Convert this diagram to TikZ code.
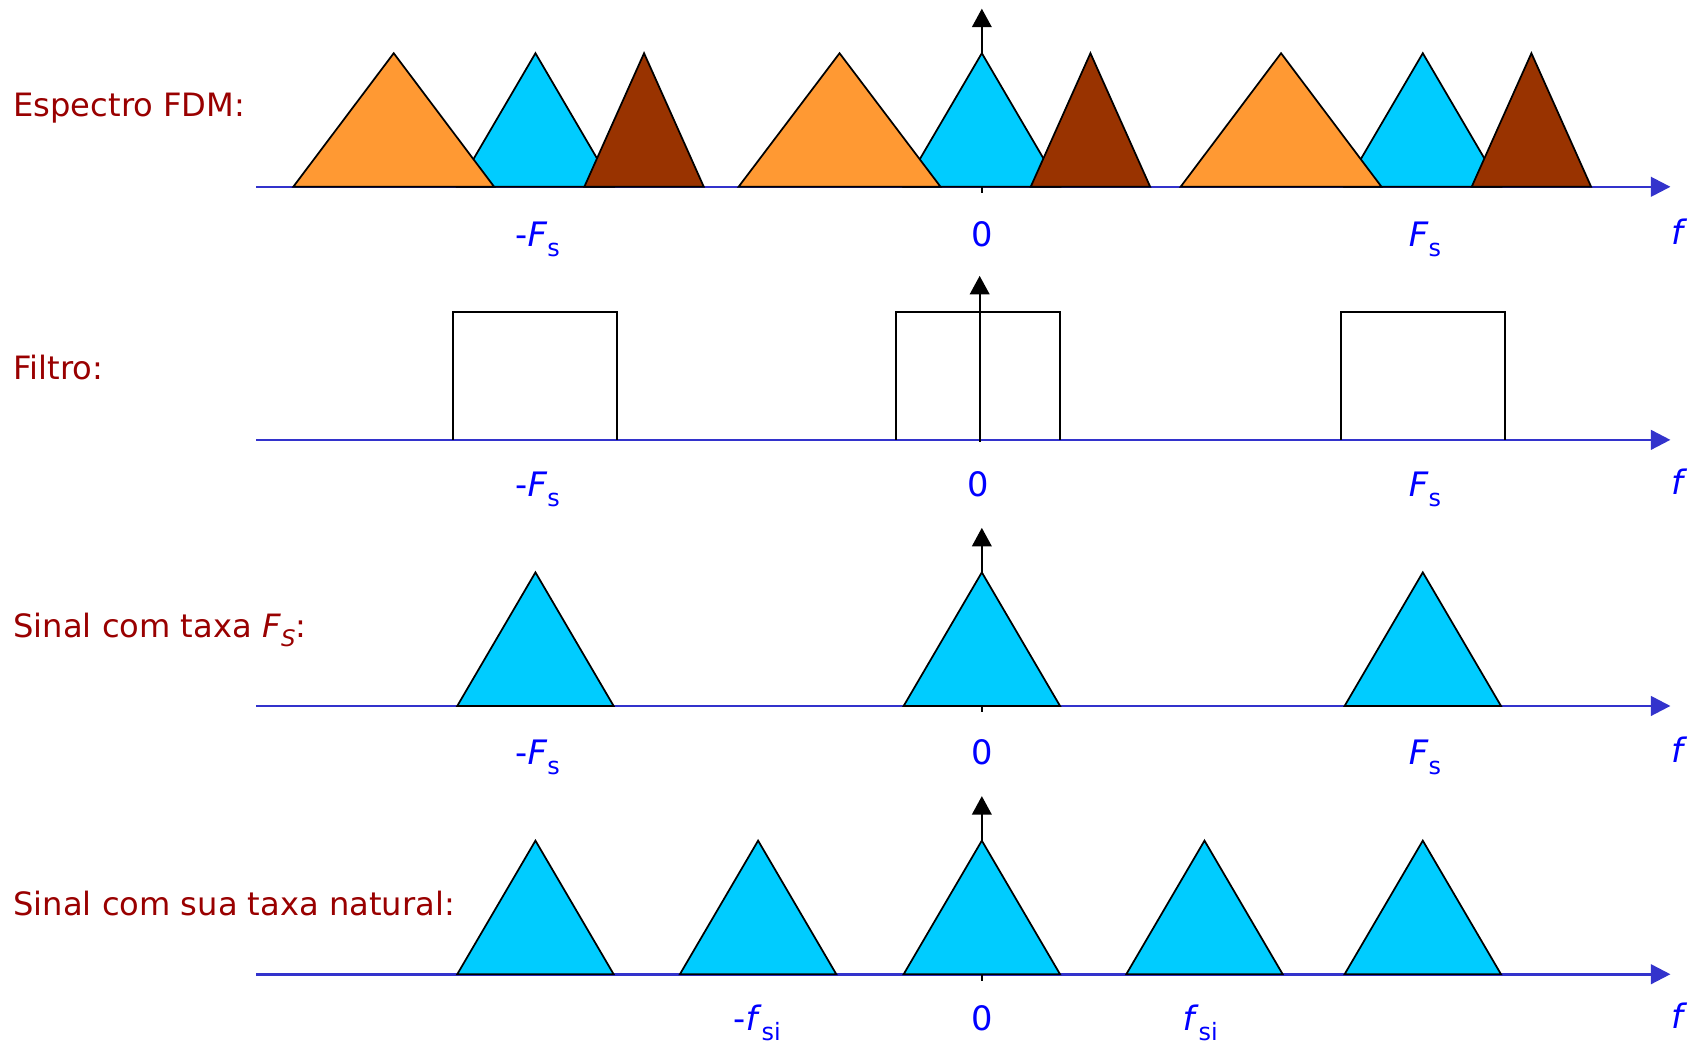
\documentclass[tikz,border=0pt]{standalone}
\usepackage{fontspec}
\setmainfont{DejaVu Sans}
\usetikzlibrary{arrows.meta}
\definecolor{orng}{HTML}{FF9933}
\definecolor{cyn}{HTML}{00CCFF}
\definecolor{brwn}{HTML}{993300}
\definecolor{ttl}{HTML}{990000}
\definecolor{axb}{HTML}{3333CC}
\definecolor{lblb}{HTML}{0000FF}
\newcommand\mytri[5]{\filldraw[spec,fill=#5] (#1,#3) -- ({(#1+#2)/2},#4) -- (#2,#3) -- cycle;}
\newcommand\sbs[1]{\raisebox{-4.5pt}{\fontsize{11}{11}\selectfont #1}}
\newcommand\sbt[1]{\raisebox{-4pt}{\fontsize{10.5}{11}\selectfont #1}}
\begin{document}
\begin{tikzpicture}[x=0.5pt,y=-0.5pt,
  spec/.style={draw=black,line width=0.8pt,line join=miter},
  faxis/.style={draw=axb,line width=1.2pt,-{Triangle[length=9pt,width=9pt]}},
  varrow/.style={draw=black,line width=0.9pt,-{Triangle[length=8.5pt,width=9pt]}},
  tick/.style={draw=black,line width=0.8pt},
  ttext/.style={text=ttl,font=\fontsize{14.8}{17}\selectfont,anchor=base west,inner sep=0},
  ltext/.style={text=lblb,font=\fontsize{15.5}{17}\selectfont,anchor=base,inner sep=0},
]
\useasboundingbox (0,0) rectangle (1568,962);

% ---------- Row 1 ----------
\coordinate (a1s) at (236,172); \coordinate (a1e) at (1538,172);
\draw[faxis] (a1s) -- (a1e);
\coordinate (v1s) at (904,172); \coordinate (v1e) at (904,8);
\draw[varrow] (v1s) -- (v1e);
\coordinate (t1) at (904,178); \draw[tick] (v1s) -- (t1);
\mytri{421}{565}{172}{49}{cyn}
\mytri{832}{976}{172}{49}{cyn}
\mytri{1238}{1382}{172}{49}{cyn}
\mytri{270}{455}{172}{49}{orng}
\mytri{538}{648}{172}{49}{brwn}
\mytri{680}{866}{172}{49}{orng}
\mytri{949}{1059}{172}{49}{brwn}
\mytri{1087}{1272}{172}{49}{orng}
\mytri{1355}{1465}{172}{49}{brwn}
\node[ttext] (h1) at (12,107) {Espectro FDM:};
\node[ltext] (l1a) at (495,227) {-\textit{F}\sbs{s}};
\node[ltext] (l1b) at (904,227) {0};
\node[ltext] (l1c) at (1312,227) {\textit{F}\sbs{s}};
\node[ltext] (l1d) at (1546,225) {\textit{f}};

% ---------- Row 2 ----------
\coordinate (a2s) at (236,405); \coordinate (a2e) at (1538,405);
\draw[faxis] (a2s) -- (a2e);
\draw[spec] (417,405) -- (417,287) -- (568,287) -- (568,405);
\draw[spec] (825,405) -- (825,287) -- (976,287) -- (976,405);
\draw[spec] (1235,405) -- (1235,287) -- (1386,287) -- (1386,405);
\coordinate (v2s) at (902,407); \coordinate (v2e) at (902,254);
\draw[varrow] (v2s) -- (v2e);
\node[ttext] (h2) at (12,349) {Filtro:};
\node[ltext] (l2a) at (495,457) {-\textit{F}\sbs{s}};
\node[ltext] (l2b) at (901,457) {0};
\node[ltext] (l2c) at (1312,457) {\textit{F}\sbs{s}};
\node[ltext] (l2d) at (1546,455) {\textit{f}};

% ---------- Row 3 ----------
\coordinate (a3s) at (236,650); \coordinate (a3e) at (1538,650);
\draw[faxis] (a3s) -- (a3e);
\coordinate (v3s) at (904,650); \coordinate (v3e) at (904,486);
\draw[varrow] (v3s) -- (v3e);
\coordinate (t3) at (904,656); \draw[tick] (v3s) -- (t3);
\mytri{421}{565}{650}{527}{cyn}
\mytri{832}{976}{650}{527}{cyn}
\mytri{1238}{1382}{650}{527}{cyn}
\node[ttext] (h3) at (12,587) {Sinal com taxa \textit{F}\sbt{\textit{S}}:};
\node[ltext] (l3a) at (495,704) {-\textit{F}\sbs{s}};
\node[ltext] (l3b) at (904,704) {0};
\node[ltext] (l3c) at (1312,704) {\textit{F}\sbs{s}};
\node[ltext] (l3d) at (1546,702) {\textit{f}};

% ---------- Row 4 ----------
\coordinate (a4s) at (236,897); \coordinate (a4e) at (1538,897);
\draw[faxis] (a4s) -- (a4e);
\coordinate (v4s) at (904,897); \coordinate (v4e) at (904,733);
\draw[varrow] (v4s) -- (v4e);
\coordinate (t4) at (904,903); \draw[tick] (v4s) -- (t4);
\mytri{421}{565}{897}{774}{cyn}
\mytri{626}{770}{897}{774}{cyn}
\mytri{832}{976}{897}{774}{cyn}
\mytri{1037}{1181}{897}{774}{cyn}
\mytri{1238}{1382}{897}{774}{cyn}
\node[ttext] (h4) at (12,843) {Sinal com sua taxa natural:};
\node[ltext] (l4a) at (697,949) {-\textit{f}\sbs{si}};
\node[ltext] (l4b) at (904,949) {0};
\node[ltext] (l4c) at (1105,949) {\textit{f}\sbs{si}};
\node[ltext] (l4d) at (1546,947) {\textit{f}};
\end{tikzpicture}
\end{document}
